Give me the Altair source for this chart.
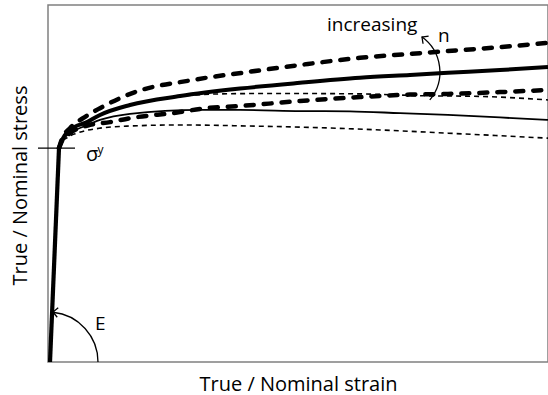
import altair as alt
import pandas as pd

# Strain (% of axis) and stress (% of axis) sampled along each curve
elastic_strain = [0.4, 2.2]
elastic_stress = [0.0, 59.9]

true_high_strain = [2.2, 2.8, 4.4, 7.0, 10.4, 17.0, 29.0, 39.8, 50.4, 62.4, 72.4, 80.0, 90.4, 100.0]
true_high_stress = [59.9, 62.5, 65.5, 68.3, 71.1, 75.4, 79.0, 81.2, 83.2, 85.2, 86.3, 87.1, 88.2, 89.4]

true_mid_strain = [2.2, 2.8, 4.4, 7.8, 10.4, 16.4, 26.4, 38.4, 50.4, 62.4, 72.4, 80.0, 90.4, 100.0]
true_mid_stress = [59.9, 62.2, 65.0, 67.2, 69.2, 72.0, 74.5, 76.6, 78.2, 79.6, 80.4, 81.0, 81.8, 82.6]

true_low_strain = [2.2, 2.8, 4.4, 8.4, 12.4, 16.4, 26.4, 30.4, 38.4, 50.4, 62.4, 72.4, 80.0, 90.4, 100.0]
true_low_stress = [59.9, 61.9, 64.1, 66.4, 67.2, 68.3, 70.0, 70.9, 71.7, 73.1, 74.2, 74.9, 75.1, 75.6, 76.2]

nom_high_strain = [2.2, 2.8, 4.4, 7.8, 10.4, 16.4, 26.4, 34.4, 42.4, 50.4, 62.4, 74.4, 86.4, 100.0]
nom_high_stress = [59.9, 62.2, 65.0, 67.2, 69.2, 72.0, 74.4, 75.1, 75.2, 75.2, 75.1, 74.6, 74.4, 73.4]

nom_mid_strain = [2.2, 2.8, 4.4, 7.4, 10.4, 16.4, 30.4, 38.4, 50.4, 60.4, 70.4, 80.0, 90.4, 100.0]
nom_mid_stress = [59.9, 61.9, 64.1, 66.1, 67.8, 69.5, 70.6, 70.6, 70.3, 70.2, 69.7, 69.2, 68.5, 67.8]

nom_low_strain = [2.2, 2.8, 4.0, 5.8, 10.4, 16.4, 26.4, 40.4, 50.4, 66.4, 80.0, 100.0]
nom_low_stress = [59.9, 61.6, 63.0, 64.1, 65.5, 66.1, 66.4, 66.1, 65.8, 65.0, 64.1, 62.7]

yield_stress = 59.9
yield_tick_strain = [-2.0, 5.4]

FONT = "Open Sans"
xs = alt.Scale(domain=[0, 100], nice=False, zero=False)
ys = alt.Scale(domain=[0, 100], nice=False, zero=False)


def curve(strain, stress, width, dash=None, cap="butt"):
    df = pd.DataFrame({"strain": strain, "stress": stress, "order": range(len(strain))})
    kw = dict(color="black", strokeWidth=width, interpolate="monotone", strokeCap=cap)
    if dash:
        kw["strokeDash"] = dash
    return alt.Chart(df).mark_line(**kw).encode(
        x=alt.X("strain:Q", scale=xs, title="True / Nominal strain"),
        y=alt.Y("stress:Q", scale=ys, title="True / Nominal stress"),
        order="order:Q",
    )


def label(text, x, y, size, align="left"):
    df = pd.DataFrame({"strain": [x], "stress": [y], "t": [text]})
    return alt.Chart(df).mark_text(
        font=FONT, fontSize=size, color="black", align=align, baseline="alphabetic"
    ).encode(x=alt.X("strain:Q", scale=xs), y=alt.Y("stress:Q", scale=ys), text="t:N")


def arc(cx, cy, r, t0, t1):
    df = pd.DataFrame({"strain": [cx], "stress": [cy]})
    return alt.Chart(df).mark_arc(
        radius=r, radius2=r, theta=t0, theta2=t1,
        fillOpacity=0, stroke="black", strokeWidth=1.3,
    ).encode(x=alt.X("strain:Q", scale=xs), y=alt.Y("stress:Q", scale=ys))


def arrowhead(x, y, angle):
    df = pd.DataFrame({"strain": [x], "stress": [y]})
    return alt.Chart(df).mark_point(
        shape="M1,-1L0,0L1,1", filled=False, stroke="black", strokeWidth=1.3,
        size=90, angle=angle, opacity=1,
    ).encode(x=alt.X("strain:Q", scale=xs), y=alt.Y("stress:Q", scale=ys))


yield_df = pd.DataFrame({"strain": [yield_tick_strain[0]], "strain2": [yield_tick_strain[1]],
                         "stress": [yield_stress]})
yield_tick = alt.Chart(yield_df).mark_rule(color="black", strokeWidth=1.2).encode(
    x=alt.X("strain:Q", scale=xs), x2="strain2:Q", y=alt.Y("stress:Q", scale=ys)
)

thick_dash = [8, 10]
thin_dash = [5, 4]

layers = [
    curve(nom_low_strain, nom_low_stress, 1.6, thin_dash),
    curve(nom_mid_strain, nom_mid_stress, 1.8),
    curve(nom_high_strain, nom_high_stress, 1.6, thin_dash),
    curve(true_low_strain, true_low_stress, 4.5, thick_dash, "round"),
    curve(true_mid_strain, true_mid_stress, 4.0),
    curve(true_high_strain, true_high_stress, 4.5, thick_dash, "round"),
    curve(elastic_strain, elastic_stress, 4.2),
    yield_tick,
    label("\u03c3", 7.6, 56.3, 20),
    label("y", 9.9, 58.3, 12),
    label("E", 9.4, 9.0, 19),
    label("increasing", 55.8, 92.7, 19),
    label("n", 78.0, 89.6, 19),
    arc(0, 0, 50, 0.1, 1.5708),
    arrowhead(1.0, 14.0, 6),
    arc(69.7, 81.2, 43.4, 0.622, 2.266),
    arrowhead(74.8, 91.0, 36),
]

chart = alt.layer(*layers).properties(
    width=500, height=357,
    padding={"left": 48, "top": 5, "right": 0, "bottom": 33},
    autosize="none",
).configure_view(
    stroke="#808080", strokeWidth=1.5
).configure_axis(
    domain=False, ticks=False, labels=False, grid=False,
    titleFont=FONT, titleFontSize=20, titleFontWeight="normal", titleColor="black",
).configure_axisX(
    titleY=28, titleBaseline="alphabetic"
).configure_axisY(
    titleX=-22, titleY=180, titleAngle=270, titleBaseline="alphabetic"
)

chart.save("out.html", embed_options={"renderer": "svg", "actions": False})
